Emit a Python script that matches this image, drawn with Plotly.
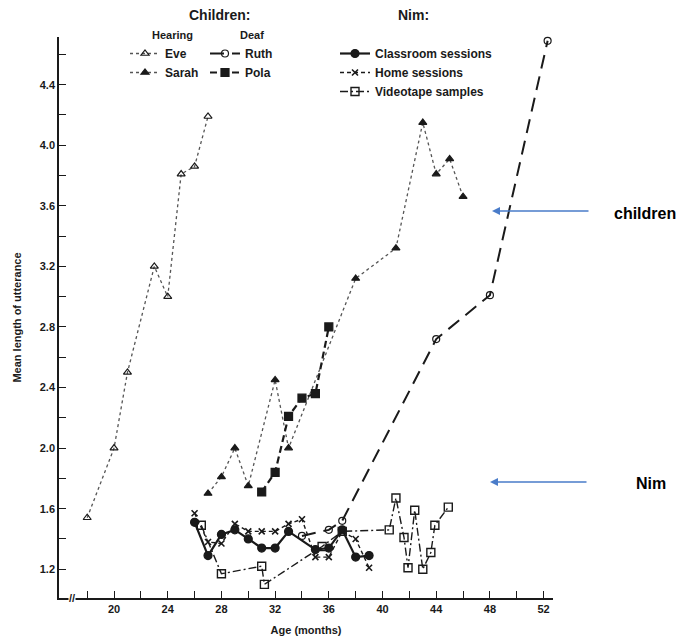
import plotly.graph_objects as go

# ---- data ----
eve_age = [18, 20, 21, 23, 24, 25, 26, 27]
eve_mlu = [1.54, 2.0, 2.5, 3.2, 3.0, 3.81, 3.86, 4.19]

sarah_age = [27, 28, 29, 30, 32, 33, 38, 41, 43, 44, 45, 46]
sarah_mlu = [1.70, 1.81, 2.0, 1.75, 2.45, 2.0, 3.12, 3.32, 4.15, 3.81, 3.91, 3.66]

ruth_age = [34, 36, 37, 44, 48, 52.3]
ruth_mlu = [1.42, 1.46, 1.52, 2.72, 3.01, 4.69]

pola_age = [31, 32, 33, 34, 35, 36]
pola_mlu = [1.71, 1.84, 2.21, 2.33, 2.36, 2.80]

class_age = [26, 27, 28, 29, 30, 31, 32, 33, 35, 36, 37, 38, 39]
class_mlu = [1.51, 1.29, 1.43, 1.46, 1.40, 1.34, 1.34, 1.45, 1.33, 1.34, 1.46, 1.28, 1.29]

home_age = [26, 27, 28, 29, 30, 31, 32, 33, 34, 35, 36, 37, 38, 39]
home_mlu = [1.57, 1.38, 1.37, 1.50, 1.45, 1.45, 1.45, 1.50, 1.53, 1.28, 1.28, 1.45, 1.40, 1.21]

video_age = [26.5, 28, 31, 31.2, 35.5, 37, 40.5, 41, 41.6, 41.9, 42.4, 43, 43.6, 43.9, 44.9]
video_mlu = [1.49, 1.17, 1.22, 1.10, 1.35, 1.45, 1.46, 1.67, 1.41, 1.21, 1.59, 1.20, 1.31, 1.49, 1.61]

x_tickvals = list(range(18, 53, 2))
x_ticktext = [str(v) if v % 4 == 0 else "" for v in x_tickvals]
y_tickvals = [round(1.2 + 0.2 * i, 1) for i in range(18)]
y_ticktext = [f"{v:.1f}" if round(v * 10) % 4 == 0 else "" for v in y_tickvals]

FONT = "Liberation Sans, Arial, sans-serif"
INK = "#1a1a1a"

# plot area in pixels: x 59..553, y 37..598
def px(x):
    return (x - 59) / 494

def py(y):
    return (598 - y) / 561

fig = go.Figure()

def add(name, x, y, legend, dash, width, color, symbol, size, mline=1.2):
    fig.add_trace(go.Scatter(
        x=x, y=y, name=name, legend=legend, mode="lines+markers",
        line=dict(color=color, width=width, dash=dash),
        marker=dict(symbol=symbol, size=size, color=INK,
                    line=dict(color=INK, width=mline)),
        cliponaxis=False,
    ))

add("Eve", eve_age, eve_mlu, "legend", "dot", 1.3, "#555555", "triangle-up-open", 7)
add("Sarah", sarah_age, sarah_mlu, "legend", "dot", 1.3, "#555555", "triangle-up", 7)
add("Ruth", ruth_age, ruth_mlu, "legend2", "14px,8px", 2.0, INK, "circle-open", 7)
add("Pola", pola_age, pola_mlu, "legend2", "7px,4px", 2.2, INK, "square", 8)
add("Classroom sessions", class_age, class_mlu, "legend3", "solid", 2.2, INK, "circle", 8)
add("Home sessions", home_age, home_mlu, "legend3", "4px,3px", 1.4, INK, "x-thin-open", 6, 1.6)
add("Videotape samples", video_age, video_mlu, "legend3", "8px,3px,2px,3px", 1.4, INK, "square-open", 8, 1.4)

axis_common = dict(
    showline=True, linecolor=INK, linewidth=1.6, mirror=False,
    ticks="inside", ticklen=7, tickwidth=1.2, tickcolor=INK,
    showgrid=False, zeroline=False, automargin=False,
    tickfont=dict(family=FONT, size=11, color=INK, weight="bold"),
)

legend_font = dict(family=FONT, size=12, color=INK, weight="bold")

def ann(text, x, y, size, color=INK):
    return dict(text=text, xref="paper", yref="paper", x=px(x), y=py(y),
                xanchor="center", yanchor="middle", showarrow=False,
                font=dict(family=FONT, size=size, color=color))

def leg(x):
    return dict(x=px(x), y=py(39), xanchor="left", yanchor="top",
                bgcolor="rgba(0,0,0,0)", itemwidth=30, font=legend_font)

fig.update_layout(
    width=695, height=638,
    margin=dict(l=59, r=142, t=37, b=40),
    paper_bgcolor="white", plot_bgcolor="white",
    font=dict(family=FONT, color=INK),
    xaxis=dict(range=[15.9, 52.7], tickmode="array", tickvals=x_tickvals,
               ticktext=x_ticktext, title=dict(text="<b>Age (months)</b>",
               font=dict(family=FONT, size=11, color=INK), standoff=12),
               **axis_common),
    yaxis=dict(range=[1.01, 4.715], tickmode="array", tickvals=y_tickvals,
               ticktext=y_ticktext,
               title=dict(text="<b>Mean length of utterance</b>",
               font=dict(family=FONT, size=11, color=INK), standoff=16),
               **axis_common),
    legend=leg(125),
    legend2=leg(205),
    legend3=leg(335),
    annotations=[
        ann("<b>Children:</b>", 219, 15, 14),
        ann("<b>Nim:</b>", 413, 15, 14),
        ann("<b>Hearing</b>", 172, 35, 11),
        ann("<b>Deaf</b>", 252, 35, 11),
        dict(text="<b>//</b>", xref="paper", yref="paper", x=px(72), y=0,
             xanchor="center", yanchor="middle", showarrow=False,
             bgcolor="white", borderpad=0,
             font=dict(family=FONT, size=11, color=INK)),
        dict(text="", xref="paper", yref="paper",
             x=px(492), y=py(211), ax=98, ay=0,
             showarrow=True, arrowhead=2, arrowsize=1, arrowwidth=1.6,
             arrowcolor="#4a7cc9"),
        dict(text="", xref="paper", yref="paper",
             x=px(490), y=py(482), ax=98, ay=0,
             showarrow=True, arrowhead=2, arrowsize=1, arrowwidth=1.6,
             arrowcolor="#4a7cc9"),
        ann("<b>children</b>", 645, 213, 16, "black"),
        ann("<b>Nim</b>", 651, 483, 16, "black"),
    ],
)

fig.write_html("out.html", config={"displayModeBar": False},
               post_script="document.body.style.margin='0';")
